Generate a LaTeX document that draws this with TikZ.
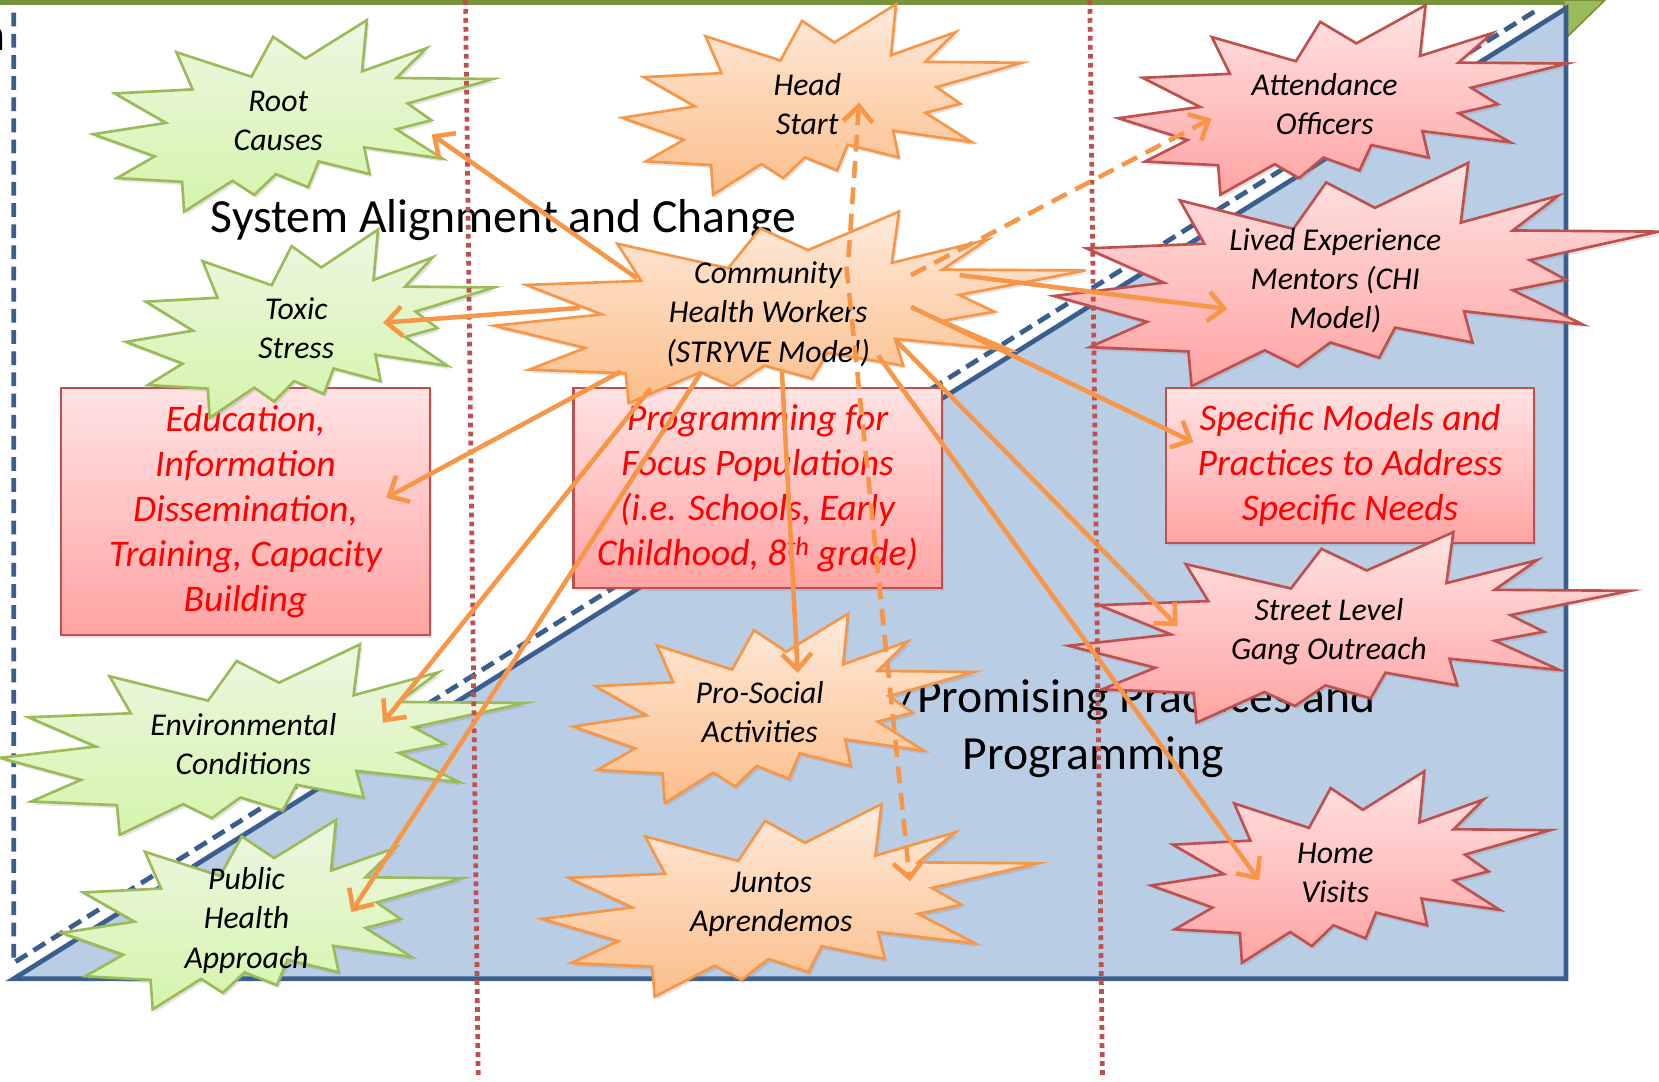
\documentclass[tikz,border=0pt]{standalone}
\usepackage{fontspec}
\setmainfont{Carlito}
\usetikzlibrary{arrows.meta,shadows}

\definecolor{greenline}{HTML}{9BBB59}
\definecolor{greentop}{HTML}{EDF7E2}
\definecolor{greenbot}{HTML}{D5F4AC}
\definecolor{orangeline}{HTML}{F79646}
\definecolor{orangetop}{HTML}{FEEADB}
\definecolor{orangebot}{HTML}{FBBE8A}
\definecolor{pinkline}{HTML}{C0504D}
\definecolor{pinktop}{HTML}{FFE3E3}
\definecolor{pinkbot}{HTML}{FFA3A3}
\definecolor{boxred}{HTML}{FF0000}
\definecolor{bluefill}{HTML}{B9CDE5}
\definecolor{blueline}{HTML}{3A5F8E}
\definecolor{topgreen}{HTML}{77933C}

% explosion outline, #2,#3 top left corner, #4 width, #5 height
\newcommand\burstpath[5]{%
  \path[#1,shift={(#2,#3)},xscale=#4/216,yscale=#5/216]
    (114.62,43.42) -- (147.90,0) -- (145.25,57.77) -- (180.07,31.72) --
    (163.80,65.32) -- (216,66.45) -- (169.85,94.02) -- (182.70,112.90) --
    (163.80,123.10) -- (188.77,156.32) -- (146.40,143.50) -- (149.42,173.70) --
    (121.80,159.35) -- (116.12,188.42) -- (98.72,173.70) -- (87.00,197.12) --
    (75.27,181.25) -- (49.17,216) -- (48.05,182.40) -- (12.85,178.25) --
    (33.30,153.70) -- (0,128.77) -- (39.35,115.92) -- (11.72,82.70) --
    (53.72,78.17) -- (45.02,36.25) -- (85.50,63.82) -- (97.22,18.87) -- cycle;}

\begin{document}
\begin{tikzpicture}[x=1pt,y=-1pt,
  title/.style={font=\fontsize{45}{54}\selectfont, inner sep=0pt},
  startext/.style={font=\fontsize{30}{37}\selectfont\itshape, align=center, inner sep=0pt},
  softshadow/.style={drop shadow={opacity=0.22, shadow xshift=2pt, shadow yshift=-3pt}},
  greenburst/.style={draw=greenline, line width=2.5pt, line join=miter, top color=greentop, bottom color=greenbot, softshadow},
  orangeburst/.style={draw=orangeline, line width=2.5pt, line join=miter, top color=orangetop, bottom color=orangebot, softshadow},
  pinkburst/.style={draw=pinkline, line width=2.5pt, line join=miter, top color=pinktop, bottom color=pinkbot, softshadow},
  redbox/.style={draw=pinkline, line width=2pt, top color=pinktop, bottom color=pinkbot, softshadow,
    font=\fontsize{35.5}{42.5}\selectfont\itshape, text=boxred, align=center, inner sep=0pt},
  column/.style={draw=pinkline, line width=4.5pt, dash pattern=on 4.5pt off 4pt},
  link/.style={draw=orangeline, line width=4.3pt, -{Straight Barb[length=15pt,width=28pt]}},
  dlink/.style={link, dash pattern=on 16pt off 9pt},
]
\fill[white] (0,0) rectangle (1568,1022);
\useasboundingbox (0,0) rectangle (1568,1022);

% frame
\draw[topgreen, line width=5pt] (0,2.5) -- (1480,2.5);
\filldraw[fill=greenline, draw=topgreen, line width=1.5pt] (1478,0) -- (1517,0) -- (1478,38) -- cycle;
\filldraw[fill=bluefill, draw=blueline, line width=4.5pt, line join=miter] (13,925) -- (1480,925) -- (1480,8) -- cycle;
\draw[blueline, line width=4.5pt, dash pattern=on 13pt off 7pt] (13,12) -- (13,910) -- (1455,8);

% headings
\node[title, anchor=base east] (cut) at (5,48) {n};
\node[title] (sac) at (476,208) {System Alignment and Change};
\node[title, anchor=east] (ebp) at (1300,662) {/Promising Practices and};
\node[title] (ebp2) at (1033,716) {Programming};

% boxes
\node[redbox, minimum width=348pt, minimum height=233pt] (edu) at (232,483.5)
  {Education,\\Information\\Dissemination,\\Training, Capacity\\Building};
\node[redbox, minimum width=348pt, minimum height=189pt] (prog) at (716,461.5)
  {Programming for\\Focus Populations\\(i.e. Schools, Early\\Childhood, 8\textsuperscript{th} grade)};
\node[redbox, minimum width=348pt, minimum height=146pt] (spec) at (1276,440)
  {Specific Models and\\Practices to Address\\Specific Needs};

% bursts
\burstpath{greenburst}{88}{19}{378}{181}
\burstpath{greenburst}{119}{217}{348}{178}
\burstpath{greenburst}{0}{609}{497}{180}
\burstpath{greenburst}{58}{775}{379}{179}
\burstpath{orangeburst}{588}{4}{378}{180}
\burstpath{orangeburst}{467}{200}{559}{181}
\burstpath{orangeburst}{542}{580}{379}{179}
\burstpath{orangeburst}{512}{760}{469}{182}
\burstpath{pinkburst}{1057}{5}{424}{179}
\burstpath{pinkburst}{996}{154}{572}{211}
\burstpath{pinkburst}{1010}{503}{531}{180}
\burstpath{pinkburst}{1088}{729}{377}{181}

\node[startext] (root) at (263,114) {Root\\Causes};
\node[startext] (toxic) at (280,310) {Toxic\\Stress};
\node[startext] (env) at (230,703) {Environmental\\Conditions};
\node[startext] (pha) at (233,870) {Public\\Health\\Approach};
\node[startext] (head) at (763,98) {Head\\Start};
\node[startext] (chw) at (726,297) {Community\\Health Workers\\(STRYVE Model)};
\node[startext] (prosoc) at (718,673) {Pro-Social\\Activities};
\node[startext] (juntos) at (729,855) {Juntos\\Aprendemos};
\node[startext] (attend) at (1252,98) {Attendance\\Officers};
\node[startext] (lived) at (1262,265) {Lived Experience\\Mentors (CHI\\Model)};
\node[startext] (street) at (1256,597) {Street Level\\Gang Outreach};
\node[startext] (home) at (1262,825) {Home\\Visits};

% column dividers
\draw[column] (440,0) -- (452,1020);
\draw[column] (1030,0) -- (1042,1020);

% connectors from the community health workers
\draw[link] ([shift={(-124,-34)}]chw.center) -- ([shift={(145,13)}]root.center);
\draw[link] ([shift={(-178,-6)}]chw.center) -- ([shift={(82,-5)}]toxic.center);
\draw[link] ([shift={(-139,54)}]chw.center) -- ([shift={(133,-13)}]edu.center);
\draw[link] ([shift={(-111,70)}]chw.center) -- ([shift={(132,-20)}]env.center);
\draw[link] ([shift={(-64,56)}]chw.center) -- ([shift={(99,-8)}]pha.center);
\draw[link] ([shift={(13,54)}]chw.center) -- ([shift={(36,-37)}]prosoc.center);
\draw[dlink] ([shift={(76,-54)}]chw.center) -- ([shift={(49,-1)}]head.center);
\draw[dlink] ([shift={(74,-45)}]chw.center) -- ([shift={(131,-22)}]juntos.center);
\draw[dlink] ([shift={(135,-37)}]chw.center) -- ([shift={(-107,14)}]attend.center);
\draw[link] ([shift={(181,-37)}]chw.center) -- ([shift={(-102,27)}]lived.center);
\draw[link] ([shift={(135,-7)}]chw.center) -- ([shift={(-148,-22)}]spec.center);
\draw[link] ([shift={(120,24)}]chw.center) -- ([shift={(-143,-5)}]street.center);
\draw[link] ([shift={(104,39)}]chw.center) -- ([shift={(-72,7)}]home.center);
\end{tikzpicture}
\end{document}
